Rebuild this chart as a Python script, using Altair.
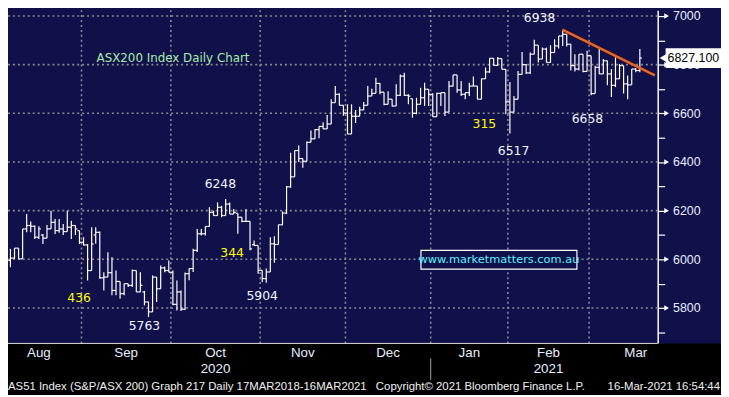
import altair as alt
import pandas as pd

# ---------------- data ----------------
opens = [5995, 6005, 6046, 6002, 6125, 6139, 6136, 6091, 6100, 6087,
         6125, 6152, 6118, 6125, 6114, 6132, 6139, 6118, 6070, 6059,
         5954, 6100, 6111, 5924, 5927, 5945, 5872, 5909, 5859, 5900,
         5893, 5954, 5866, 5866, 5825, 5784, 5927, 5879, 5965, 5954,
         5947, 5815, 5866, 5795, 5941, 5962, 6037, 6105, 6105, 6135,
         6193, 6180, 6214, 6180, 6227, 6186, 6189, 6173, 6156, 6156,
         6060, 6057, 5955, 5921, 5948, 6064, 6061, 6142, 6190, 6298,
         6339, 6447, 6414, 6403, 6481, 6495, 6533, 6546, 6536, 6556,
         6644, 6678, 6633, 6601, 6515, 6588, 6588, 6614, 6633, 6671,
         6682, 6723, 6687, 6637, 6658, 6630, 6674, 6753, 6674, 6660,
         6600, 6637, 6664, 6699, 6678, 6586, 6682, 6685, 6605, 6712,
         6758, 6696, 6678, 6685, 6712, 6712, 6658, 6742, 6770, 6826,
         6797, 6825, 6781, 6647, 6605, 6658, 6760, 6800, 6766, 6843,
         6880, 6823, 6864, 6809, 6850, 6877, 6918, 6925, 6884, 6796,
         6782, 6843, 6772, 6837, 6681, 6789, 6762, 6816, 6762, 6715,
         6742, 6796, 6721, 6717, 6782, 6776]
highs = [6043, 6046, 6046, 6125, 6186, 6155, 6139, 6136, 6104, 6141,
         6200, 6166, 6166, 6145, 6200, 6159, 6139, 6118, 6091, 6063,
         6132, 6132, 6114, 5947, 6029, 6009, 5954, 5909, 5900, 5900,
         5958, 5954, 5947, 5870, 5825, 5934, 5927, 5975, 5971, 5995,
         5954, 5913, 5872, 5946, 5962, 6043, 6125, 6125, 6135, 6214,
         6200, 6234, 6220, 6248, 6234, 6207, 6189, 6173, 6207, 6156,
         6077, 6057, 5955, 5962, 6091, 6095, 6142, 6197, 6301, 6438,
         6447, 6468, 6414, 6484, 6529, 6536, 6546, 6563, 6593, 6658,
         6712, 6682, 6633, 6637, 6637, 6614, 6627, 6647, 6712, 6701,
         6746, 6725, 6687, 6691, 6658, 6719, 6760, 6767, 6678, 6660,
         6664, 6705, 6726, 6699, 6682, 6685, 6685, 6685, 6733, 6758,
         6758, 6733, 6685, 6726, 6751, 6712, 6742, 6788, 6826, 6826,
         6831, 6825, 6781, 6729, 6671, 6774, 6852, 6803, 6850, 6902,
         6880, 6870, 6870, 6880, 6904, 6918, 6938, 6925, 6884, 6843,
         6843, 6843, 6857, 6837, 6796, 6864, 6823, 6816, 6782, 6830,
         6803, 6796, 6755, 6782, 6785, 6864]
lows = [5968, 6002, 6002, 6002, 6111, 6111, 6084, 6084, 6063, 6087,
        6125, 6104, 6109, 6100, 6114, 6084, 6100, 6063, 6057, 5913,
        5954, 6064, 5920, 5872, 5927, 5852, 5852, 5838, 5852, 5886,
        5886, 5866, 5866, 5811, 5763, 5784, 5825, 5879, 5947, 5947,
        5811, 5790, 5788, 5792, 5914, 5948, 6030, 6098, 6098, 6135,
        6180, 6180, 6173, 6180, 6186, 6186, 6105, 6152, 6156, 6037,
        6057, 5941, 5907, 5904, 5948, 5986, 6061, 6140, 6186, 6294,
        6339, 6400, 6376, 6403, 6481, 6495, 6498, 6536, 6536, 6556,
        6644, 6633, 6590, 6515, 6515, 6560, 6588, 6614, 6633, 6671,
        6682, 6678, 6633, 6637, 6628, 6630, 6671, 6671, 6637, 6582,
        6596, 6637, 6630, 6630, 6586, 6586, 6630, 6589, 6605, 6710,
        6685, 6671, 6658, 6671, 6712, 6658, 6658, 6742, 6767, 6797,
        6797, 6781, 6596, 6517, 6603, 6658, 6760, 6762, 6762, 6843,
        6809, 6823, 6809, 6809, 6850, 6866, 6877, 6875, 6776, 6772,
        6776, 6769, 6772, 6674, 6681, 6762, 6762, 6715, 6667, 6708,
        6742, 6681, 6658, 6717, 6769, 6769]
closes = [6005, 6046, 6002, 6125, 6139, 6136, 6091, 6125, 6087, 6125,
          6152, 6118, 6125, 6114, 6132, 6139, 6125, 6070, 6059, 5954,
          6063, 6111, 5924, 5927, 5945, 5872, 5909, 5859, 5900, 5893,
          5954, 5866, 5893, 5825, 5784, 5927, 5879, 5965, 5954, 5947,
          5815, 5866, 5795, 5941, 5962, 6037, 6105, 6105, 6135, 6193,
          6180, 6214, 6180, 6227, 6186, 6193, 6173, 6156, 6156, 6043,
          6057, 5955, 5921, 5948, 6064, 6061, 6142, 6190, 6298, 6339,
          6447, 6414, 6403, 6481, 6495, 6533, 6546, 6536, 6556, 6644,
          6678, 6633, 6601, 6515, 6588, 6588, 6614, 6633, 6671, 6682,
          6723, 6687, 6637, 6658, 6630, 6674, 6753, 6674, 6671, 6600,
          6637, 6664, 6699, 6678, 6586, 6682, 6685, 6605, 6712, 6758,
          6696, 6678, 6685, 6712, 6712, 6658, 6742, 6770, 6826, 6797,
          6825, 6781, 6647, 6605, 6658, 6760, 6800, 6766, 6843, 6880,
          6823, 6864, 6809, 6850, 6877, 6918, 6925, 6884, 6796, 6782,
          6843, 6772, 6837, 6681, 6789, 6762, 6816, 6762, 6715, 6742,
          6796, 6721, 6717, 6782, 6776, 6827.1]

month_names = ["Aug", "Sep", "Oct", "Nov", "Dec", "Jan", "Feb", "Mar"]
month_first_bar = [-3, 18, 40, 62, 83, 104, 123, 143]
month_trading_days = [21, 22, 22, 21, 21, 19, 20, 23]
year_names = ["2020", "2021"]
year_under_month = ["Oct", "Feb"]
year_break_month = "Jan"

y_major = [5800, 6000, 6200, 6400, 6600, 6800, 7000]
y_all_ticks = [5700, 5800, 5900, 6000, 6100, 6200, 6300, 6400, 6500, 6600, 6700, 6800, 6900, 7000]

# annotations: text, bar position, price level
level_text = ["6938", "6248", "5763", "5904", "6517", "6658"]
level_pos = [130.3, 51.7, 33.0, 62.0, 123.9, 142.1]
level_val = [6992, 6309, 5724, 5850, 6443, 6577]
move_text = ["436", "344", "315"]
move_pos = [16.9, 54.6, 116.7]
move_val = [5841, 6024, 6557]
title_text = ["ASX200 Index Daily Chart"]
title_pos = [21.2]
title_val = [6829]
site_text = ["www.marketmatters.com.au"]
site_pos = [120.3]
site_val = [5998]
trend_pos = [135.9, 158.7]
trend_val = [6944, 6756]

footer_left = ["AS51 Index (S&P/ASX 200) Graph 217  Daily 17MAR2018-16MAR2021"]
footer_mid = ["Copyright\u00a9 2021 Bloomberg Finance L.P."]
footer_right = ["16-Mar-2021 16:54:44"]

# ---------------- frames ----------------
n = len(closes)
bars = pd.DataFrame({"i": list(range(n)), "o": opens, "h": highs, "l": lows, "c": closes})
bars["il"] = bars["i"] - 0.5
bars["ir"] = bars["i"] + 0.5

months = pd.DataFrame({"name": month_names, "first": month_first_bar, "days": month_trading_days})
months["ctr"] = months["first"] - 0.5 + months["days"] / 2.0
months["edge"] = months["first"] - 0.5
edges = months.iloc[1:]
years = pd.DataFrame({"name": year_names,
                      "ctr": [float(months.loc[months["name"] == m, "ctr"].iloc[0]) for m in year_under_month]})
ybreak = pd.DataFrame({"edge": [float(months.loc[months["name"] == year_break_month, "edge"].iloc[0])]})

W, H, RIGHT, BOTTOM = 657, 337, 64, 50
NAVY = "#10104a"
GRID = "#8a8a96"
SANS = "Liberation Sans, Arial, sans-serif"
px_per_unit = (7024 - 5654.5) / H

xs = alt.Scale(domain=[-0.6, 159.4], nice=False, zero=False)
ys = alt.Scale(domain=[5654.5, 7024], nice=False, zero=False)
y_axis = alt.Axis(orient="right", values=y_all_ticks,
                  labelExpr="datum.value % 200 == 0 ? datum.value : ''",
                  tickSize=7, tickColor="#ffffff", tickWidth=1.2,
                  domainColor="#ffffff", domainWidth=1.5,
                  labelColor="#e8eeff", labelFont=SANS, labelFontSize=12.5,
                  labelPadding=8, grid=False, title=None)


def X(f):
    return alt.X(f, type="quantitative", scale=xs, axis=None)


def Y(f):
    return alt.Y(f, type="quantitative", scale=ys, axis=y_axis)


one = pd.DataFrame({"k": [0]})

bottom_strip = alt.Chart(one).mark_rect(color="#000000").encode(
    x=alt.value(-2), x2=alt.value(W + RIGHT + 2), y=alt.value(H), y2=alt.value(H + BOTTOM + 4))

hgrid = alt.Chart(pd.DataFrame({"v": y_major})).mark_rule(
    color=GRID, strokeDash=[2, 3], strokeWidth=1.6).encode(
    y=Y("v"), x=alt.value(0), x2=alt.value(W))

vgrid = alt.Chart(edges).mark_rule(color=GRID, strokeDash=[2, 3], strokeWidth=1.6).encode(
    x=X("edge"), y=alt.value(0), y2=alt.value(H))

bottom_line = alt.Chart(one).mark_rule(color="#e0e0e0", strokeWidth=1).encode(
    x=alt.value(0), x2=alt.value(W), y=alt.value(H))

hl = alt.Chart(bars).mark_rule(color="#ffffff", strokeWidth=1.2).encode(
    x=X("i"), y=Y("l"), y2="h")
otick = alt.Chart(bars).mark_rule(color="#ffffff", strokeWidth=1.2).encode(
    x=X("il"), x2="i", y=Y("o"))
ctick = alt.Chart(bars).mark_rule(color="#ffffff", strokeWidth=1.2).encode(
    x=X("i"), x2="ir", y=Y("c"))

trend = alt.Chart(pd.DataFrame({"x": trend_pos, "y": trend_val})).mark_line(
    color="#f2641c", strokeWidth=2.5).encode(x=X("x"), y=Y("y"))

lvl = alt.Chart(pd.DataFrame({"t": level_text, "x": level_pos, "y": level_val})).mark_text(
    color="#f2f5ff", font="DejaVu Sans", fontSize=12.5).encode(x=X("x"), y=Y("y"), text="t")
mv = alt.Chart(pd.DataFrame({"t": move_text, "x": move_pos, "y": move_val})).mark_text(
    color="#ffff00", font="DejaVu Sans", fontSize=12.5).encode(x=X("x"), y=Y("y"), text="t")
ttl = alt.Chart(pd.DataFrame({"t": title_text, "x": title_pos, "y": title_val})).mark_text(
    color="#a8eea8", font="DejaVu Sans", fontSize=12, align="left").encode(x=X("x"), y=Y("y"), text="t")

site = pd.DataFrame({"t": site_text, "x": site_pos, "y": site_val})
site["x0"] = site["x"] - 19.2
site["x1"] = site["x"] + 19.2
site["y0"] = site["y"] - 9.5 * px_per_unit
site["y1"] = site["y"] + 9.5 * px_per_unit
site_box = alt.Chart(site).mark_rect(fill=NAVY, stroke="#ffffff", strokeWidth=1.2).encode(
    x=X("x0"), x2="x1", y=Y("y0"), y2="y1")
site_txt = alt.Chart(site).mark_text(color="#5ef2ff", font="DejaVu Sans", fontSize=11.5).encode(
    x=X("x"), y=Y("y"), text="t")

ax_tri = alt.Chart(pd.DataFrame({"v": y_major})).mark_point(
    shape="triangle-right", filled=True, color="#ffffff", opacity=1, size=30).encode(
    x=alt.value(W + 9), y=Y("v"))

last = pd.DataFrame({"c": [closes[-1]], "lab": ["%.3f" % closes[-1]]})
last["top"] = last["c"] + 10 * px_per_unit
last["bot"] = last["c"] - 10 * px_per_unit
price_box = alt.Chart(last).mark_rect(color="#ffffff").encode(
    x=alt.value(W + 8), x2=alt.value(W + RIGHT), y=Y("top"), y2="bot")
price_tri = alt.Chart(last).mark_point(
    shape="triangle-left", filled=True, color="#ffffff", opacity=1, size=90).encode(
    x=alt.value(W + 6), y=Y("c"))
price_txt = alt.Chart(last).mark_text(
    color="#000000", font=SANS, fontSize=12.5, align="left").encode(
    x=alt.value(W + 10), y=Y("c"), text="lab")

mlab = alt.Chart(months).mark_text(
    color="#e8eeff", font=SANS, fontSize=13.5).encode(
    x=X("ctr"), y=alt.value(H + 10), text="name")
ylab = alt.Chart(years).mark_text(
    color="#e8eeff", font=SANS, fontSize=13.5).encode(
    x=X("ctr"), y=alt.value(H + 26), text="name")
ysep = alt.Chart(ybreak).mark_rule(color="#a0a0a0", strokeWidth=1).encode(
    x=X("edge"), y=alt.value(H + 15), y2=alt.value(H + 37))

foot_font = dict(color="#f0f0f0", font=SANS, fontSize=11.5)
f1 = alt.Chart(pd.DataFrame({"t": footer_left})).mark_text(align="left", **foot_font).encode(
    x=alt.value(0), y=alt.value(H + 44), text="t")
f2 = alt.Chart(pd.DataFrame({"t": footer_mid})).mark_text(align="left", **foot_font).encode(
    x=alt.value(372), y=alt.value(H + 44), text="t")
f3 = alt.Chart(pd.DataFrame({"t": footer_right})).mark_text(align="right", **foot_font).encode(
    x=alt.value(W + RIGHT - 1), y=alt.value(H + 44), text="t")

chart = alt.layer(
    bottom_strip, hgrid, vgrid, bottom_line, hl, otick, ctick, trend,
    lvl, mv, ttl, site_box, site_txt, ax_tri, price_box, price_tri, price_txt,
    mlab, ylab, ysep, f1, f2, f3
).properties(
    width=W, height=H,
    padding={"left": 0, "top": 0, "right": RIGHT, "bottom": BOTTOM},
    autosize=alt.AutoSizeParams(type="none"),
    background=NAVY,
).configure_view(stroke=None, fill=NAVY)

chart.save("out.html", embed_options={"renderer": "svg", "actions": False})
